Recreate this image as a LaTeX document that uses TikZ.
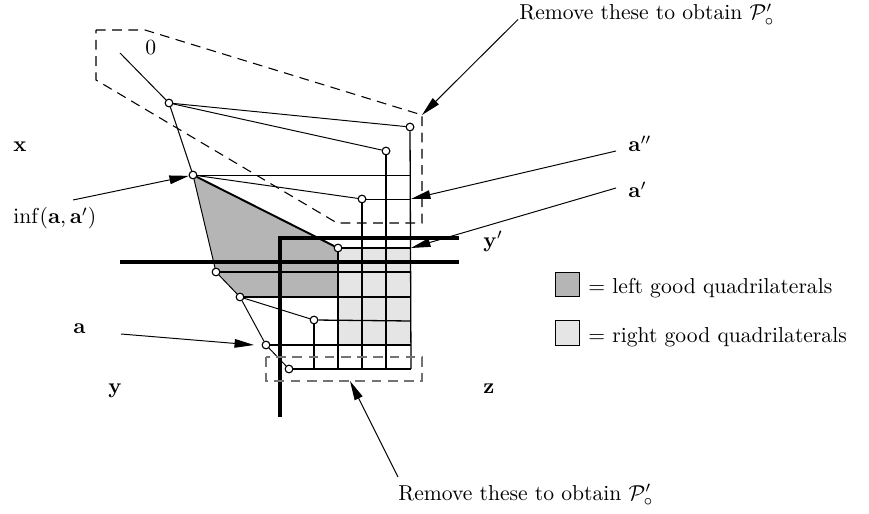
\documentclass[tikz,border=0pt]{standalone}
\usetikzlibrary{arrows.meta}
\definecolor{darkq}{gray}{0.71}
\definecolor{lightq}{gray}{0.9}
\definecolor{dashgray}{gray}{0.45}
\begin{document}
\begin{tikzpicture}[x=0.463pt,y=-0.463pt,
  thinline/.style={line width=0.45pt},
  gridline/.style={line width=0.6pt},
  heavy/.style={line width=1.6pt},
  edgeline/.style={line width=0.9pt},
  dashline/.style={line width=0.5pt, dash pattern=on 4.5pt off 3pt},
  vtx/.style={circle, draw, fill=white, line width=0.45pt, inner sep=0pt, minimum size=3.5pt},
  lbl/.style={anchor=base west, inner sep=0pt},
  arr/.style={line width=0.45pt, -{Triangle[length=9pt,width=4pt]}}]
\useasboundingbox (0,0) rectangle (869,514);

% fills
\fill[darkq] (193,175) -- (216,272) -- (240,297) -- (338,297) -- (338,248) -- cycle;
\fill[lightq] (338,248) rectangle (411,345);

% vertices
\coordinate (s0) at (120,53);
\node[vtx] (c1) at (169,103) {};
\node[vtx] (c2) at (410,127) {};
\node[vtx] (c3) at (386,151) {};
\node[vtx] (c4) at (193,175) {};
\node[vtx] (c5) at (362,199) {};
\node[vtx] (c6) at (338,248) {};
\node[vtx] (c7) at (216,272) {};
\node[vtx] (c8) at (240,297) {};
\node[vtx] (c9) at (314,320) {};
\node[vtx] (c10) at (266,345) {};
\node[vtx] (c11) at (289,369) {};

% grid end points
\coordinate (e175) at (411,175);
\coordinate (e199) at (411,199);
\coordinate (e248) at (411,248);
\coordinate (e272) at (411,272);
\coordinate (e297) at (411,297);
\coordinate (e321) at (411,321);
\coordinate (e345) at (411,345);
\coordinate (e369) at (411,369);
\coordinate (b314) at (314,369);
\coordinate (b338) at (338,369);
\coordinate (b362) at (362,369);
\coordinate (b386) at (386,369);
\coordinate (q297) at (338,297);

% chain and rays
\draw[thinline] (s0) -- (c1) -- (c4) -- (c7) -- (c8) -- (c10) -- (c11);
\draw[thinline] (c1) -- (c2);
\draw[thinline] (c1) -- (c3);
\draw[thinline] (c4) -- (c5);
\draw[thinline] (c8) -- (c9);
\draw[thinline] (c4) -- (e175);
\draw[thinline] (c5) -- (e199);

% grid
\draw[gridline] (c2) -- (e369);
\draw[gridline] (c3) -- (b386);
\draw[gridline] (c5) -- (b362);
\draw[gridline] (c6) -- (b338);
\draw[gridline] (c9) -- (b314);
\draw[gridline] (c6) -- (e248);
\draw[gridline] (c7) -- (e272);
\draw[gridline] (c8) -- (e297);
\draw[gridline] (c9) -- (e321);
\draw[gridline] (c10) -- (e345);
\draw[gridline] (c11) -- (e369);
\draw[edgeline] (c4) -- (c6);
\draw[edgeline] (c8) -- (q297);

% thick axes
\coordinate (h1) at (120,262);
\coordinate (h2) at (459,262);
\coordinate (k1) at (459,238);
\coordinate (k2) at (280,238);
\coordinate (k3) at (280,417);
\draw[heavy] (h1) -- (h2);
\draw[heavy] (k1) -- (k2) -- (k3);

% redraw vertices on top
\foreach \n in {c1,c2,c3,c4,c5,c6,c7,c8,c9,c10,c11}
  \draw[thinline, fill=white] (\n) circle (1.75pt);

% dashed regions
\coordinate (d1) at (96,30);
\coordinate (d2) at (145,30);
\coordinate (d3) at (422,115);
\coordinate (d4) at (422,223);
\coordinate (d5) at (337,223);
\coordinate (d6) at (96,80);
\draw[dashline] (d1) -- (d2) -- (d3) -- (d4) -- (d5) -- (d6) -- cycle;
\coordinate (r1) at (266,357);
\coordinate (r2) at (422,381);
\coordinate (r3) at (350,381);
\draw[dashline, dashgray] (r1) rectangle (r2);

% labels
\node[lbl] (lx) at (13,151.7) {$\mathbf{x}$};
\node[lbl] (linf) at (13,224) {$\inf(\mathbf{a},\mathbf{a}')$};
\node[lbl] (la) at (73,333) {$\mathbf{a}$};
\node[lbl] (ly) at (108,393) {$\mathbf{y}$};
\node[lbl] (lz) at (483,393) {$\mathbf{z}$};
\node[lbl] (lyp) at (483,247) {$\mathbf{y}'$};
\node[lbl] (lapp) at (628,152) {$\mathbf{a}''$};
\node[lbl] (lap) at (628,198) {$\mathbf{a}'$};
\node[lbl] (l0) at (145,55) {$0$};
\node[lbl] (rem1) at (519,20) {Remove these to obtain $\mathcal{P}'_\circ$};
\node[lbl] (rem2) at (398,500.5) {Remove these to obtain $\mathcal{P}'_\circ$};

% arrows
\coordinate (a1) at (518,19.5);
\coordinate (a2) at (398,477);
\coordinate (a3) at (616,151);
\coordinate (a4) at (616,188);
\coordinate (a5) at (73,200);
\coordinate (a6) at (121,334);
\coordinate (t6) at (254,345);
\draw[arr] (a1) -- (d3);
\draw[arr] (a2) -- (r3);
\draw[arr] (a3) -- (e199);
\draw[arr] (a4) -- (e248);
\draw[arr] (a5) -- (c4);
\draw[arr] (a6) -- (t6);

% legend
\draw[thinline, fill=darkq] (555,272) rectangle (579,296);
\draw[thinline, fill=lightq] (555,320) rectangle (579,345);
\node[lbl] (leg1) at (588,294) {$=$ left good quadrilaterals};
\node[lbl] (leg2) at (588,342.5) {$=$ right good quadrilaterals};
\end{tikzpicture}
\end{document}
